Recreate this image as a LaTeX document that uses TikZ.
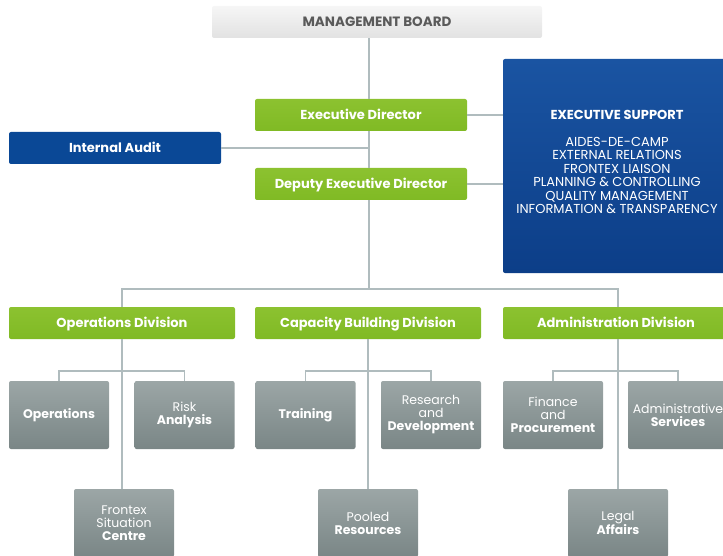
\documentclass[tikz,border=0pt]{standalone}
\usepackage{fontspec}
\setmainfont{Poppins}
\definecolor{lgreen}{RGB}{128,186,36}
\definecolor{lgreenT}{RGB}{140,194,48}
\definecolor{dblueT}{RGB}{26,84,162}
\definecolor{dblueB}{RGB}{12,62,136}
\definecolor{iablue}{RGB}{10,72,150}
\definecolor{greyT}{RGB}{156,166,166}
\definecolor{greyB}{RGB}{122,134,134}
\definecolor{linec}{RGB}{176,188,190}
\definecolor{boardT}{RGB}{246,246,246}
\definecolor{boardB}{RGB}{226,226,226}
\definecolor{boardtxt}{RGB}{90,90,90}
\begin{document}
\begin{tikzpicture}[x=1pt,y=-1pt,
  conn/.style={draw=linec, line width=1.7pt},
  greenbox/.style={rounded corners=2pt, top color=lgreenT, bottom color=lgreen, draw=none,
    text=white, font=\fontsize{13}{15}\selectfont\bfseries, inner sep=0pt,
    text height=9.5pt, text depth=0pt,
    minimum width=212pt, minimum height=32pt},
  bluebox/.style={rounded corners=2pt, top color=dblueT, bottom color=dblueB, draw=none,
    text=white, inner sep=0pt},
  greybox/.style={rounded corners=2pt, top color=greyT, bottom color=greyB, draw=none,
    text=white, font=\fontsize{12.5}{13}\selectfont, align=center, inner sep=0pt,
    minimum width=100pt, minimum height=68pt},
]
\useasboundingbox (0,0) rectangle (723,556);
\clip (0,0) rectangle (723,556);

% top level
\node[rounded corners=2pt, top color=boardT, bottom color=boardB, text=boardtxt,
  font=\fontsize{13.5}{15}\selectfont\bfseries, minimum width=330pt, minimum height=32pt,
  text height=9.5pt, text depth=0pt, inner sep=0pt] (mb) at (377,22) {MANAGEMENT BOARD};
\node[greenbox, minimum width=212pt] (ed) at (361,115) {Executive Director};
\node[greenbox, minimum width=212pt] (ded) at (361,184) {Deputy Executive Director};
\node[rounded corners=2pt, fill=iablue, text=white, inner sep=0pt,
  minimum width=212pt, minimum height=32pt, text height=9.5pt, text depth=0pt,
  font=\fontsize{13}{15}\selectfont\bfseries] (ia) at (115,148) {Internal Audit};
\node[bluebox, minimum width=236pt, minimum height=214pt] (es) at (621,166) {};
\node[text=white, align=center, font=\fontsize{13}{13.5}\selectfont] (est) at (617,162)
  {{\bfseries EXECUTIVE SUPPORT}\\[13.5pt]
   AIDES-DE-CAMP\\ EXTERNAL RELATIONS\\ FRONTEX LIAISON\\
   PLANNING \& CONTROLLING\\ QUALITY MANAGEMENT\\ INFORMATION \& TRANSPARENCY};

% divisions
\node[greenbox, minimum width=226pt] (ops) at (122,323) {Operations Division};
\node[greenbox, minimum width=226pt] (cap) at (368,323) {Capacity Building Division};
\node[greenbox, minimum width=226pt] (adm) at (616,323) {Administration Division};

% units
\node[greybox] (op) at (59,415) {\bfseries Operations};
\node[greybox] (ra) at (184.5,415) {Risk\\\bfseries Analysis};
\node[greybox] (fsc) at (124,523) {Frontex\\Situation\\\bfseries Centre};
\node[greybox] (tr) at (305.5,415) {\bfseries Training};
\node[greybox] (rd) at (431,415) {Research\\and\\\bfseries Development};
\node[greybox] (pr) at (368,523) {Pooled\\\bfseries Resources};
\node[greybox] (fp) at (553,415) {Finance\\and\\\bfseries Procurement};
\node[greybox] (as) at (678,415) {Administrative\\\bfseries Services};
\node[greybox] (la) at (618,523) {Legal\\\bfseries Affairs};

% connectors top
\coordinate (spine) at (369,0);
\draw[conn] (mb.south -| spine) -- (ed.north -| spine);
\draw[conn] (ed.south -| spine) -- (ded.north -| spine);
\draw[conn] (ia.east) -- (ia.east -| spine);
\draw[conn] (ed.east) -- (ed.east -| es.west);
\draw[conn] (ded.east) -- (ded.east -| es.west);

% bus to divisions
\coordinate (bus) at (0,289);
\draw[conn] (ded.south -| spine) -- (bus -| spine);
\draw[conn] (ops.north) -- (ops.north |- bus) -- (bus -| la.north) -- (la.north |- adm.north);

% unit bus
\coordinate (ub) at (0,371);
\draw[conn] (ops.south) -- (ops.south |- fsc.north);
\draw[conn] (op.north) -- (op.north |- ub) -- (ub -| ra.north) -- (ra.north);
\draw[conn] (cap.south) -- (cap.south |- pr.north);
\draw[conn] (tr.north) -- (tr.north |- ub) -- (ub -| rd.north) -- (rd.north);
\draw[conn] (adm.south -| la.north) -- (la.north);
\draw[conn] (fp.north) -- (fp.north |- ub) -- (ub -| as.north) -- (as.north);
\end{tikzpicture}
\end{document}
